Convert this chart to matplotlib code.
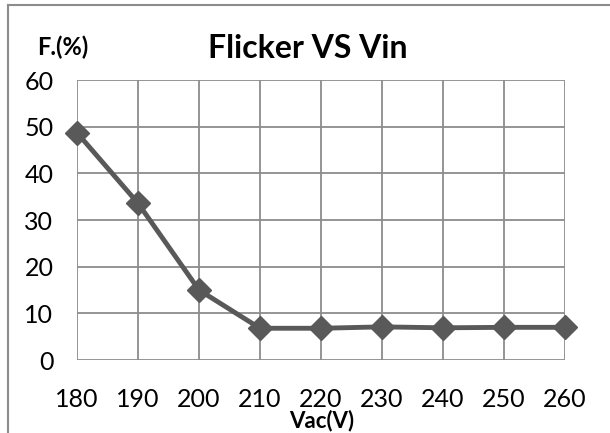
import matplotlib.pyplot as plt
from matplotlib.lines import Line2D

vac = [180, 190, 200, 210, 220, 230, 240, 250, 260]
flicker = [48.7, 33.6, 15.0, 6.8, 6.8, 7.1, 6.9, 7.0, 7.0]
y_ticks = [0, 10, 20, 30, 40, 50, 60]

plt.rcParams['font.family'] = ['Lato', 'DejaVu Sans']

fig = plt.figure(figsize=(6.1, 4.33), dpi=100)
ax = fig.add_axes([77 / 610, 73 / 433, 488 / 610, 280 / 433])

ax.plot(vac, flicker, color='#595959', linewidth=3.5, marker='D', markersize=12,
        clip_on=False, zorder=3)

ax.set_xlim(180, 260)
ax.set_ylim(0, 60)
ax.set_xticks(vac)
ax.set_yticks(y_ticks)
ax.grid(True, color='#8c8c8c', linewidth=1.3)
for s in ax.spines.values():
    s.set_visible(False)
ax.tick_params(length=0, labelsize=18, pad=20)
ax.tick_params(axis='y', pad=17)

fig.text(322 / 610, 1 - 421 / 433, 'Vac(V)', fontsize=16, fontweight='bold',
         ha='center', va='center')
fig.text(308 / 610, 1 - 49 / 433, 'Flicker VS Vin', fontsize=23, fontweight='bold',
         ha='center', va='center')
fig.text(63 / 610, 1 - 47 / 433, 'F.(%)', fontsize=17, fontweight='bold',
         ha='center', va='center')

# outer frame of the chart area
fig.add_artist(Line2D([8 / 610, 8 / 610], [0, 1 - 5 / 433], color='#8c8c8c',
                      linewidth=1.5, transform=fig.transFigure))
fig.add_artist(Line2D([8 / 610, 1], [1 - 5 / 433, 1 - 5 / 433], color='#8c8c8c',
                      linewidth=1.5, transform=fig.transFigure))

fig.savefig('out.png', dpi=100)
